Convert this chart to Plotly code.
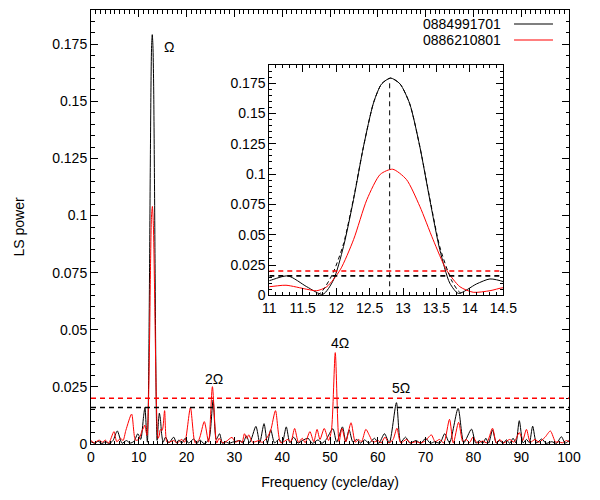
import plotly.graph_objects as go

# ---------------- data ----------------
black_f = [0.0, 0.8, 1.5, 2.3, 3.0, 3.8, 4.6, 5.5, 6.5, 7.4, 8.2, 9.0, 9.8, 10.4,
           11.0, 11.28, 11.56, 11.8, 11.96, 12.11, 12.26, 12.41, 12.56, 12.68, 12.815,
           12.955, 13.1, 13.25, 13.4, 13.55, 13.7, 13.83, 14.1, 14.3, 14.5, 14.8, 15.1,
           15.6, 16.3, 17.3, 17.9, 18.4, 19.0, 19.7, 20.4, 21.5, 22.2, 22.8, 23.6, 24.3,
           24.8, 25.55, 26.2, 26.9, 27.5, 28.2, 28.9, 29.6, 30.4, 31.2, 31.8, 32.5, 33.2,
           34.5, 35.3, 36.2, 36.9, 37.6, 38.4, 39.3, 40.0, 40.85, 41.6, 42.4, 43.3, 44.2,
           45.4, 46.3, 47.5, 48.3, 49.2, 50.6, 51.4, 52.6, 53.3, 54.0, 54.8, 55.6, 56.4,
           57.2, 58.2, 59.3, 60.2, 61.4, 62.4, 63.9, 64.8, 65.8, 66.7, 68.0, 69.0, 70.0,
           71.0, 71.9, 73.0, 74.0, 75.0, 76.8, 78.0, 79.6, 80.5, 81.3, 82.0, 82.6, 83.2,
           84.0, 84.8, 85.5, 86.2, 86.9, 87.6, 88.3, 88.9, 89.6, 90.4, 91.1, 91.7, 92.4,
           93.2, 94.3, 95.2, 96.4, 97.4, 98.4, 99.2, 100.0]
black_p = [0.001, 0.0003, 0.0012, 0.0002, 0.001, 0.0002, 0.0015, 0.0057, 0.0003, 0.0015, 0.0004, 0.0012, 0.0045, 0.002,
           0.0121, 0.016, 0.0071, 0.0008, 0.0127, 0.0403, 0.079, 0.123, 0.159, 0.1744, 0.1792,
           0.1744, 0.158, 0.123, 0.079, 0.0376, 0.01, 0.0016, 0.0094, 0.0135, 0.0113, 0.004, 0.0008,
           0.003, 0.0005, 0.003, 0.0005, 0.0018, 0.0003, 0.0025, 0.0004, 0.0022, 0.0003, 0.0018, 0.0002, 0.001,
           0.003, 0.0193, 0.002, 0.0045, 0.0003, 0.001, 0.0003, 0.0008, 0.0012, 0.0015, 0.0004, 0.0035, 0.0006,
           0.0077, 0.0006, 0.0089, 0.0004, 0.0062, 0.0005, 0.002, 0.0005, 0.0075, 0.0006, 0.003, 0.0004, 0.0015,
           0.0025, 0.0003, 0.0018, 0.0003, 0.002, 0.0067, 0.0008, 0.0075, 0.001, 0.0062, 0.0008, 0.002, 0.0004,
           0.0018, 0.0004, 0.0025, 0.0003, 0.0045, 0.0005, 0.0181, 0.0008, 0.003, 0.0004, 0.0015, 0.0003, 0.0025,
           0.0003, 0.001, 0.0004, 0.0045, 0.0005, 0.0156, 0.0006, 0.0065, 0.0004, 0.0015, 0.0003, 0.0025, 0.0004,
           0.0062, 0.0004, 0.0015, 0.0003, 0.0018, 0.0003, 0.0025, 0.0005, 0.0102, 0.0005, 0.002, 0.0006, 0.0078,
           0.0005, 0.0022, 0.0003, 0.001, 0.0003, 0.0032, 0.0004, 0.0015]

red_f = [0.0, 0.7, 1.7, 2.4, 3.0, 3.7, 4.8, 5.4, 6.2, 6.7, 7.3, 8.5, 9.3, 10.0, 10.7,
         11.0, 11.25, 11.56, 11.71, 11.86, 12.06, 12.26, 12.46, 12.66, 12.845, 13.05, 13.25,
         13.45, 13.65, 13.85, 14.05, 14.3, 14.5, 14.9, 15.4, 15.9, 16.6, 17.3, 18.0, 19.0,
         19.6, 20.8, 21.8, 22.6, 23.7, 24.6, 25.4, 26.3, 26.8, 27.5, 28.2, 29.5, 30.2, 31.0,
         31.6, 32.1, 32.6, 33.0, 33.8, 35.2, 35.8, 36.9, 37.6, 38.6, 39.7, 41.2, 41.8, 42.6,
         43.4, 44.2, 44.8, 45.8, 46.6, 47.3, 47.9, 48.8, 49.7, 50.3, 51.1, 51.9, 52.5, 53.3,
         54.4, 55.3, 56.0, 56.6, 57.5, 58.3, 59.0, 60.1, 60.7, 61.5, 62.3, 63.2, 64.0, 64.8,
         66.0, 66.8, 68.0, 69.0, 70.0, 71.2, 72.0, 72.9, 73.8, 75.0, 75.8, 76.9, 77.8, 78.5,
         79.2, 79.9, 80.8, 82.0, 82.8, 84.0, 84.8, 85.5, 86.3, 87.6, 88.5, 89.6, 90.3, 91.1,
         91.9, 92.9, 93.7, 95.0, 96.1, 97.2, 97.8, 98.6, 99.5, 100.0]
red_p = [0.0015, 0.0005, 0.0017, 0.0008, 0.0017, 0.0004, 0.0054, 0.001, 0.0025, 0.0015, 0.006, 0.0131, 0.0017, 0.002, 0.006,
         0.0071, 0.0083, 0.005, 0.0038, 0.0071, 0.021, 0.0459, 0.079, 0.0998, 0.104, 0.0956, 0.0735,
         0.0459, 0.021, 0.0071, 0.0025, 0.0038, 0.0063, 0.006, 0.0146, 0.0008, 0.001, 0.0015, 0.0005, 0.002,
         0.0008, 0.0159, 0.0005, 0.002, 0.0098, 0.0008, 0.0251, 0.0004, 0.0025, 0.0006, 0.001, 0.0029, 0.0008, 0.0015,
         0.0007, 0.0045, 0.0025, 0.004, 0.0008, 0.0015, 0.0007, 0.003, 0.006, 0.0146, 0.0005, 0.002, 0.0008, 0.0068,
         0.0008, 0.0025, 0.0006, 0.0054, 0.001, 0.0064, 0.002, 0.0068, 0.0015, 0.006, 0.04, 0.001, 0.0068, 0.001,
         0.0093, 0.0008, 0.002, 0.001, 0.0064, 0.0035, 0.0008, 0.0015, 0.0005, 0.003, 0.0005, 0.002, 0.0069, 0.0005,
         0.002, 0.0005, 0.001, 0.0005, 0.0015, 0.004, 0.001, 0.002, 0.0005, 0.0108, 0.0004, 0.0095, 0.001, 0.002,
         0.0006, 0.003, 0.0005, 0.0013, 0.0005, 0.0069, 0.0005, 0.002, 0.0005, 0.002, 0.0008, 0.005, 0.0015, 0.0064,
         0.0008, 0.002, 0.0008, 0.003, 0.0057, 0.0008, 0.001, 0.0005, 0.0015, 0.001]

# model (dashed) curve in inset
model_f = [11.72, 11.8, 11.95, 12.11, 12.26, 12.41, 12.56, 12.68, 12.815,
           12.955, 13.1, 13.25, 13.4, 13.55, 13.72, 13.82, 13.9]
model_p = [0.0, 0.004, 0.018, 0.0425, 0.08, 0.123, 0.159, 0.1744, 0.1792,
           0.1744, 0.158, 0.123, 0.08, 0.04, 0.013, 0.004, 0.0]

series_names = ["0884991701", "0886210801"]
thresholds = [0.016, 0.020]          # black, red significance levels
peak_freq = 12.8
peak_top = 0.178
labels = ["Ω", "2Ω", "4Ω", "5Ω"]
label_x = [14.85, 25.7, 52.1, 64.85]
label_y = [0.174, 0.0285, 0.0441, 0.0245]

BLACK = "#000000"
RED = "#ff0000"
FONT = "Liberation Sans, Arial, sans-serif"

fig = go.Figure()

for xa, ya in (("x", "y"), ("x2", "y2")):
    fig.add_trace(go.Scatter(x=black_f, y=black_p, mode="lines", line=dict(color=BLACK, width=1, shape="spline", smoothing=0.7),
                             xaxis=xa, yaxis=ya, showlegend=False))
    fig.add_trace(go.Scatter(x=red_f, y=red_p, mode="lines", line=dict(color=RED, width=1, shape="spline", smoothing=0.7),
                             xaxis=xa, yaxis=ya, showlegend=False))

fig.add_trace(go.Scatter(x=model_f, y=model_p, mode="lines", line=dict(color=BLACK, width=1, dash="4px,3px", shape="spline", smoothing=0.7),
                         xaxis="x2", yaxis="y2", showlegend=False))

# thresholds
for val, col in zip(thresholds, [BLACK, RED]):
    fig.add_shape(type="line", xref="x", yref="y", x0=0, x1=100, y0=val, y1=val,
                  line=dict(color=col, width=1.6, dash="5px,4px"))
    fig.add_shape(type="line", xref="x2", yref="y2", x0=11, x1=14.5, y0=val, y1=val,
                  line=dict(color=col, width=1.6, dash="5px,4px"))
fig.add_shape(type="line", xref="x2", yref="y2", x0=peak_freq, x1=peak_freq, y0=0, y1=peak_top,
              line=dict(color=BLACK, width=1, dash="5px,4px"))

for t, x, y in zip(labels, label_x, label_y):
    fig.add_annotation(x=x, y=y, xref="x", yref="y", text=t, showarrow=False,
                       xanchor="left" if t == "Ω" else "center", yanchor="middle",
                       font=dict(size=14, color="black", family=FONT))

# legend (gnuplot style: text then sample)
for name, col, yp in zip(series_names, [BLACK, RED], [0.9677, 0.9309]):
    fig.add_annotation(x=0.862, y=yp, xref="paper", yref="paper", text=name, showarrow=False,
                       xanchor="right", yanchor="middle", font=dict(size=14, color="black", family=FONT))
    fig.add_shape(type="line", xref="paper", yref="paper", x0=0.885, x1=0.9665, y0=yp, y1=yp,
                  line=dict(color=col, width=1.2))

axis_common = dict(showline=True, linecolor="black", linewidth=1, mirror="ticks", ticks="inside",
                   ticklen=7, tickcolor="black", showgrid=False, zeroline=False, automargin=False,
                   tickfont=dict(size=14, color="black", family=FONT))

# page body has an 8px default margin; margins compensate so the plot area sits where it does in the reference
fig.update_layout(
    width=600, height=500,
    margin=dict(l=83, r=39, t=2, b=64),
    paper_bgcolor="white", plot_bgcolor="white",
    showlegend=False,
    font=dict(family=FONT, size=14, color="black"),
    xaxis=dict(range=[0, 100], dtick=10, tick0=0, domain=[0, 1], anchor="y",
               title=dict(text="Frequency (cycle/day)", font=dict(size=14), standoff=13),
               minor=dict(dtick=1, ticks="inside", ticklen=3.5, tickcolor="black"),
               **axis_common),
    yaxis=dict(range=[0, 0.19], dtick=0.025, tick0=0, domain=[0, 1], anchor="x",
               title=dict(text="LS power", font=dict(size=14), standoff=24),
               minor=dict(dtick=0.005, ticks="inside", ticklen=3.5, tickcolor="black"),
               **axis_common),
    xaxis2=dict(range=[11, 14.5], dtick=0.5, tick0=11, domain=[0.373, 0.8626], anchor="y2",
                minor=dict(dtick=0.1, ticks="inside", ticklen=3, tickcolor="black"),
                **axis_common),
    yaxis2=dict(range=[0, 0.19], dtick=0.025, tick0=0, domain=[0.3426, 0.8733], anchor="x2",
                minor=dict(dtick=0.005, ticks="inside", ticklen=3, tickcolor="black"),
                **axis_common),
)

fig.write_html("out.html")
